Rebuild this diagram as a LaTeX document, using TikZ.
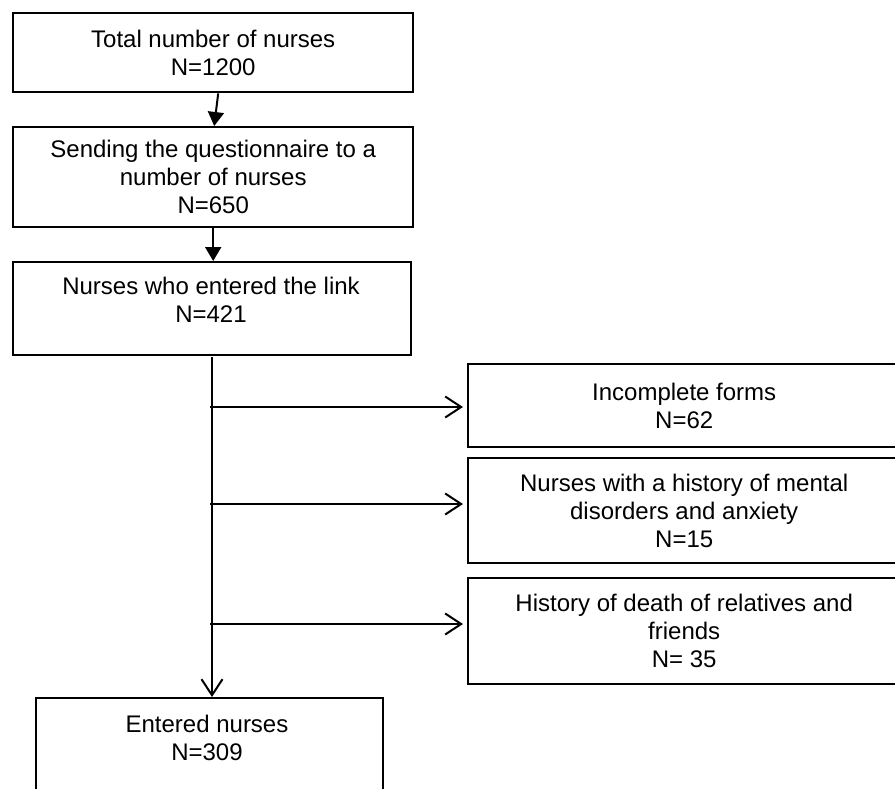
\documentclass[tikz,border=0pt]{standalone}
\usepackage{fontspec}
\setmainfont{Liberation Sans}
\usetikzlibrary{arrows.meta,calc}
\begin{document}
\begin{tikzpicture}[x=1pt,y=-1pt,
  box/.style={draw=black, line width=2.4pt, inner sep=0pt, anchor=north west,
    align=center, font=\fontsize{24}{28}\selectfont},
  txt/.style={align=center, inner sep=0pt, font=\fontsize{24}{28}\selectfont},
  fillarrow/.style={line width=2pt, -{Triangle[length=14pt,width=16pt]}},
  openarrow/.style={line width=1.8pt, -{Straight Barb[length=16pt,width=21pt,line width=2pt]}},
  link/.style={line width=1.8pt}]
\useasboundingbox (0,0) rectangle (895,788);
\fill[white] (0,0) rectangle (895,788);

% left column
\node[box, minimum width=400pt, minimum height=79pt] (b1) at (12,12)
  {Total number of nurses\\N=1200};
\node[box, minimum width=400pt, minimum height=100pt] (b2) at (12,126)
  {Sending the questionnaire to a\\number of nurses\\N=650};
\node[box, minimum width=398pt, minimum height=93pt] (b3) at (12,261) {};
\node[txt] (t3) at (211,300) {Nurses who entered the link\\N=421};
\node[box, minimum width=347pt, minimum height=115pt] (b4) at (35,697) {};
\node[txt] (t4) at (207,738) {Entered nurses\\N=309};

% right column
\node[box, minimum width=432pt, minimum height=83pt] (rA) at (467,363)
  {Incomplete forms\\N=62};
\node[box, minimum width=432pt, minimum height=105pt] (rB) at (467,457)
  {Nurses with a history of mental\\disorders and anxiety\\N=15};
\node[box, minimum width=432pt, minimum height=106pt] (rC) at (467,577)
  {History of death of relatives and\\friends\\N= 35};

% connectors
\draw[fillarrow] ([xshift=5pt]b1.south) -- ([xshift=1pt]b2.north);
\draw[fillarrow] (b2.south) -- (b2.south |- b3.north);

\coordinate (v0) at (212,357);
\draw[openarrow] (v0) -- (v0 |- b4.north);

\coordinate (h1) at (210,407);
\coordinate (h2) at (210,504);
\coordinate (h3) at (210,624);
\draw[openarrow, shorten >=4pt] (h1) -- (h1 -| rA.west);
\draw[openarrow, shorten >=4pt] (h2) -- (h2 -| rB.west);
\draw[openarrow, shorten >=4pt] (h3) -- (h3 -| rC.west);
\end{tikzpicture}
\end{document}
